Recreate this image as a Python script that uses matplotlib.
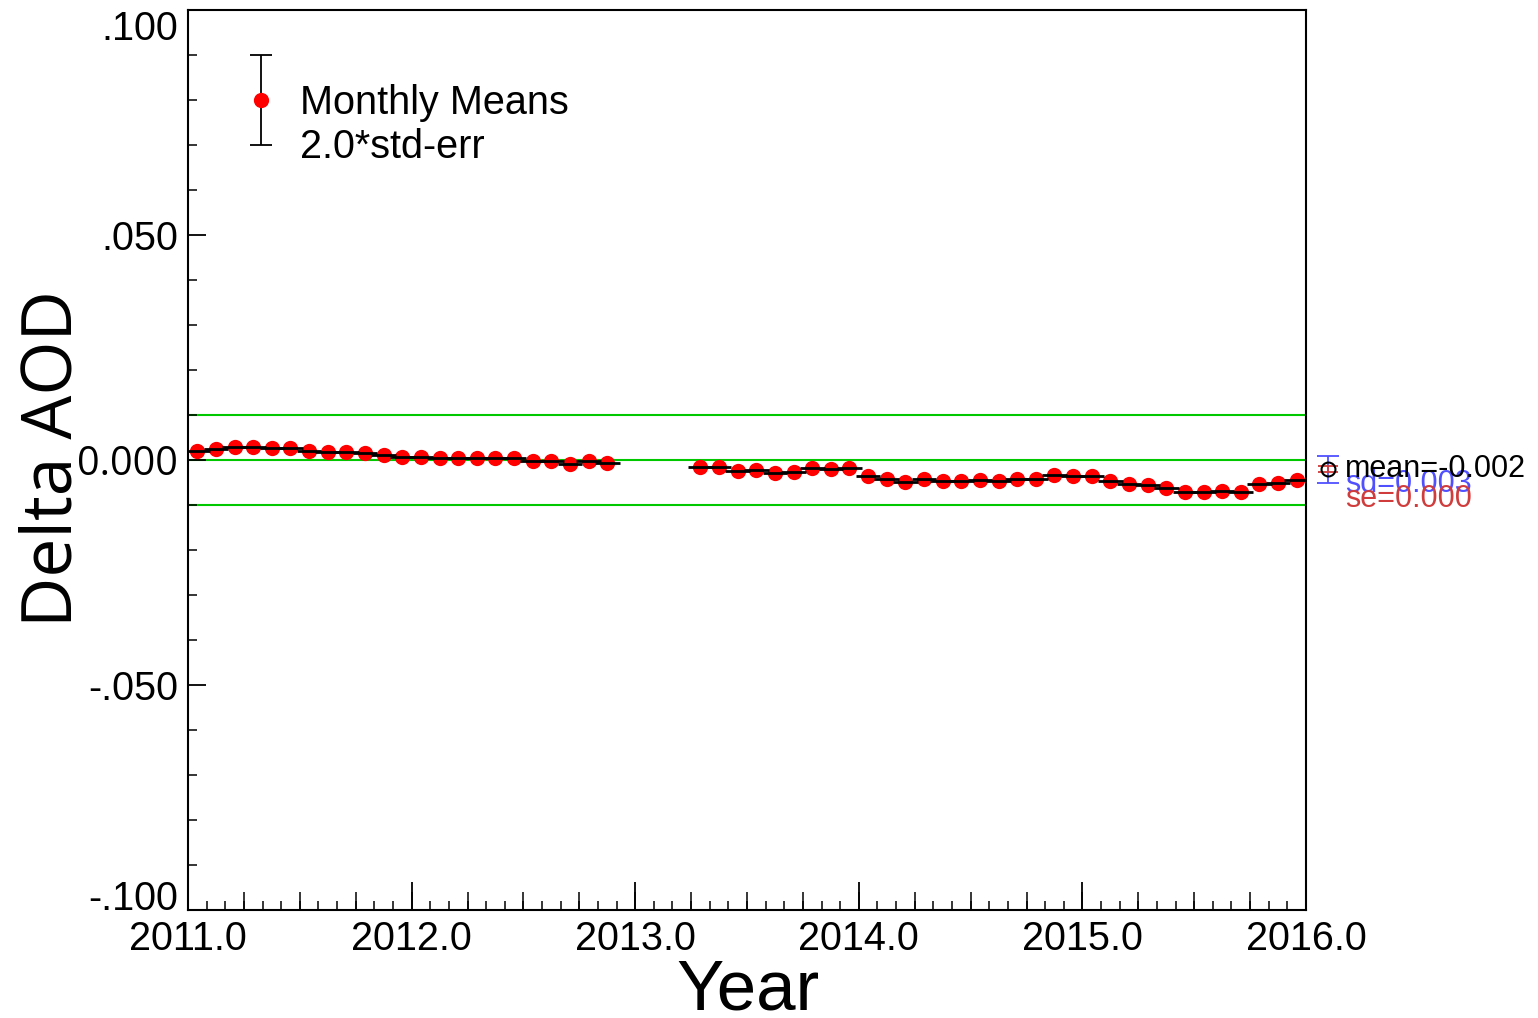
import matplotlib
matplotlib.use("Agg")
import matplotlib.pyplot as plt
import numpy as np
import pandas as pd
from matplotlib.ticker import FixedLocator, MultipleLocator, NullFormatter

plt.rcParams["font.family"] = ["Liberation Sans", "DejaVu Sans"]

# monthly means, first block Jan 2011 - Nov 2012
months_a = pd.period_range("2011-01", "2012-11", freq="M")
delta_a = [0.0021, 0.0024, 0.0028, 0.0030, 0.0027, 0.0027, 0.0021, 0.0018,
           0.0017, 0.0015, 0.0012, 0.0007, 0.0007, 0.0004, 0.0005, 0.0005,
           0.0005, 0.0005, -0.0002, -0.0002, -0.0008, -0.0002, -0.0006]

# second block Apr 2013 - Dec 2015
months_b = pd.period_range("2013-04", "2015-12", freq="M")
delta_b = [-0.0015, -0.0015, -0.0024, -0.0022, -0.0028, -0.0026, -0.0018, -0.0020,
           -0.0018, -0.0036, -0.0043, -0.0048, -0.0043, -0.0046, -0.0046, -0.0044,
           -0.0046, -0.0043, -0.0043, -0.0033, -0.0035, -0.0036, -0.0046, -0.0054,
           -0.0056, -0.0063, -0.0072, -0.0072, -0.0068, -0.0070, -0.0054, -0.0050,
           -0.0044]

ref_lines = [0.01, 0.0, -0.01]
y_ticks = [-0.1, -0.05, 0.0, 0.05, 0.1]
y_tick_labels = ["-.100", "-.050", "0.000", ".050", ".100"]
x_ticks = [2011, 2012, 2013, 2014, 2015, 2016]
x_tick_labels = ["2011.0", "2012.0", "2013.0", "2014.0", "2015.0", "2016.0"]

overall_mean = -0.002
overall_sd = 0.003
overall_se = 0.0007
stat_labels = ["mean=-0.002", "sd=0.003", "se=0.000"]


def _decimal_year(periods):
    return np.asarray([p.year + (p.month - 0.5) / 12.0 for p in periods])


def main():
    fig = plt.figure(figsize=(15.38, 10.18), dpi=100)
    ax = fig.add_axes([188 / 1538, 1 - 910 / 1018, 1118 / 1538, 900 / 1018])

    for y in ref_lines:
        ax.axhline(y, color="#00c800", linewidth=1.5, zorder=1)

    half_month = 0.055
    for months, vals in ((months_a, delta_a), (months_b, delta_b)):
        xs = _decimal_year(months)
        ax.plot(xs, vals, "o", color="#ff0000", markersize=11, markeredgewidth=0, zorder=3)
        ax.errorbar(xs, vals, xerr=half_month, fmt="none", ecolor="black",
                    elinewidth=2.0, capsize=0, zorder=4)

    ax.set_xlim(2011, 2016)
    ax.set_ylim(-0.1, 0.1)

    # ticks, ROOT style: inside, bottom/left only
    ax.xaxis.set_major_locator(FixedLocator(x_ticks))
    ax.set_xticklabels(x_tick_labels)
    ax.xaxis.set_minor_locator(MultipleLocator(1 / 12))
    ax.yaxis.set_major_locator(FixedLocator(y_ticks))
    ax.set_yticklabels(y_tick_labels)
    ax.yaxis.set_minor_locator(MultipleLocator(0.01))
    ax.tick_params(axis="x", which="major", direction="in", length=20, width=1.3,
                   labelsize=28.5, pad=7, top=False)
    ax.tick_params(axis="x", which="minor", direction="in", length=6.5, width=1.1, top=False)
    ax.tick_params(axis="y", which="major", direction="in", length=13, width=1.3,
                   labelsize=28.5, pad=7, right=False)
    ax.tick_params(axis="y", which="minor", direction="in", length=6.5, width=1.1, right=False)
    for lab in ax.get_yticklabels():
        txt = lab.get_text()
        if txt == "0.000":
            lab.set_family(["Open Sans", "DejaVu Sans"])
        elif txt == ".100":
            lab.set_verticalalignment("top")
        elif txt == "-.100":
            lab.set_verticalalignment("baseline")

    quarters = ax.secondary_xaxis("bottom")
    quarters.xaxis.set_major_locator(MultipleLocator(0.25))
    quarters.xaxis.set_major_formatter(NullFormatter())
    quarters.tick_params(direction="in", length=13, width=1.1)
    quarters.spines["bottom"].set_visible(False)

    for spine in ax.spines.values():
        spine.set_linewidth(1.5)

    # legend drawn by hand
    ax.errorbar([2011.326], [0.08], yerr=[0.01], fmt="none", ecolor="black",
                elinewidth=1.3, capsize=8, capthick=1.3, zorder=5)
    ax.plot([2011.326], [0.08], "o", color="#ff0000", markersize=11,
            markeredgewidth=0, zorder=6)
    ax.text(0.1002, 0.897, "Monthly Means", transform=ax.transAxes, fontsize=28.5,
            ha="left", va="center")
    ax.text(0.1002, 0.848, "2.0*std-err", transform=ax.transAxes, fontsize=28.5,
            ha="left", va="center")

    # overall statistics outside the frame
    x_stat = 2016.1
    ax.errorbar([x_stat], [overall_mean], yerr=[overall_sd], fmt="none", ecolor="#5050ff",
                elinewidth=1.3, capsize=8, capthick=1.3, clip_on=False, zorder=5)
    ax.errorbar([x_stat], [overall_mean], yerr=[overall_se], fmt="none", ecolor="#d03c3c",
                elinewidth=1.3, capsize=7, capthick=1.3, clip_on=False, zorder=6)
    ax.plot([x_stat], [overall_mean], "o", markerfacecolor="none", markeredgecolor="black",
            markersize=10, markeredgewidth=1.5, clip_on=False, zorder=7)
    x_txt = 2016.174
    ax.text(x_txt, overall_mean, stat_labels[0], fontsize=22, color="black",
            ha="left", va="center", clip_on=False, zorder=8)
    ax.text(x_txt, -0.0053, stat_labels[1], fontsize=22, color="#5050ff",
            ha="left", va="center", clip_on=False, zorder=7)
    ax.text(x_txt, -0.0087, stat_labels[2], fontsize=22, color="#d03c3c",
            ha="left", va="center", clip_on=False, zorder=7)

    fig.text(748 / 1538, 1 - 1010 / 1018, "Year", fontsize=51, ha="center", va="baseline")
    fig.text(72 / 1538, 1 - 459 / 1018, "Delta AOD", fontsize=50, rotation=90,
             rotation_mode="anchor", ha="center", va="baseline",
             family=["Open Sans", "DejaVu Sans"])

    fig.savefig("out.png", dpi=100)
    plt.close(fig)


if __name__ == "__main__":
    main()
